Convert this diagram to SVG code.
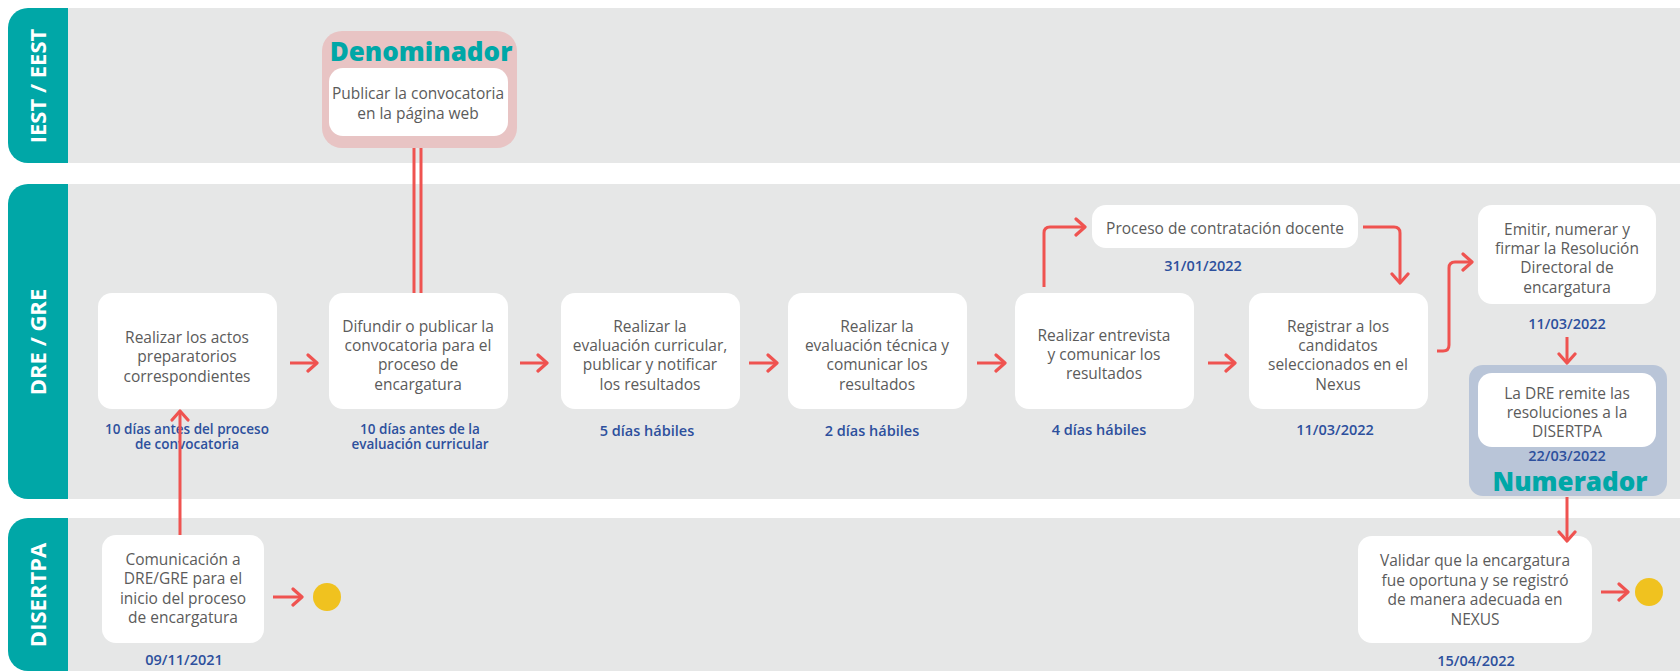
<svg xmlns="http://www.w3.org/2000/svg" width="1680" height="671" viewBox="0 0 1680 671">
<style>
.lane{fill:#e6e7e7}
.hdr{fill:#00a7a7}
.hdrt{fill:#ffffff;font-family:"Open Sans","Liberation Sans",sans-serif;font-weight:700;font-size:22px;text-anchor:middle}
.box{fill:#ffffff}
.t{fill:#5b5b5b;font-family:"Open Sans","Liberation Sans",sans-serif;font-size:15.5px;text-anchor:middle}
.d{fill:#2d509d;font-family:"Open Sans","Liberation Sans",sans-serif;font-weight:600;font-size:14.5px;text-anchor:middle}
.d2{font-size:13.5px}
.big{fill:#00a7a7;font-family:"Open Sans","Liberation Sans",sans-serif;font-weight:800;font-size:26px;text-anchor:middle}
.c{fill:none;stroke:#ef5350;stroke-width:3;stroke-linejoin:round}
.dot{fill:#f0c21f}
</style>
<defs>
<marker id="ah" viewBox="-12 -10 14 20" markerWidth="14" markerHeight="20" refX="0" refY="0" orient="auto" markerUnits="userSpaceOnUse">
<path d="M-9,-8 L0,0 L-9,8" fill="none" stroke="#ef5350" stroke-width="3.2" stroke-linecap="round" stroke-linejoin="round"/>
</marker>
</defs>

<g id="lanes">
<g id="lane-iest">
<rect class="lane" x="60" y="8" width="1640" height="155" rx="10"/>
<path class="hdr" d="M28,8 H68 V163 H28 A20,20 0 0 1 8,143 V28 A20,20 0 0 1 28,8 Z"/>
<text class="hdrt" transform="translate(45.5,86) rotate(-90)">IEST / EEST</text>
</g>
<g id="lane-dre">
<rect class="lane" x="60" y="184" width="1640" height="315" rx="10"/>
<path class="hdr" d="M28,184 H68 V499 H28 A20,20 0 0 1 8,479 V204 A20,20 0 0 1 28,184 Z"/>
<text class="hdrt" transform="translate(45.5,342) rotate(-90)">DRE / GRE</text>
</g>
<g id="lane-disertpa">
<rect class="lane" x="60" y="518" width="1640" height="153" rx="10"/>
<path class="hdr" d="M28,518 H68 V671 H28 A20,20 0 0 1 8,651 V538 A20,20 0 0 1 28,518 Z"/>
<text class="hdrt" transform="translate(45.5,595) rotate(-90)">DISERTPA</text>
</g>
</g>

<g id="n-denominador">
<rect x="322" y="31" width="195" height="117" rx="20" fill="#e8c4c4"/>
<text class="big" x="421" y="61">Denominador</text>
<rect class="box" x="329" y="68" width="179" height="68" rx="14"/>
<text class="t" x="418" y="99">Publicar la convocatoria</text>
<text class="t" x="418" y="119">en la página web</text>
</g>

<g id="n-actos">
<rect class="box" x="98" y="293" width="179" height="116" rx="14"/>
<text class="t" x="187" y="343">Realizar los actos</text>
<text class="t" x="187" y="362">preparatorios</text>
<text class="t" x="187" y="382">correspondientes</text>
<text class="d d2" x="187" y="434">10 días antes del proceso<tspan x="187" dy="15">de convocatoria</tspan></text>
</g>

<g id="n-difundir">
<rect class="box" x="329" y="293" width="179" height="116" rx="14"/>
<text class="t" x="418" y="332">Difundir o publicar la</text>
<text class="t" x="418" y="351">convocatoria para el</text>
<text class="t" x="418" y="370">proceso de</text>
<text class="t" x="418" y="389.5">encargatura</text>
<text class="d d2" x="420" y="434">10 días antes de la<tspan x="420" dy="15">evaluación curricular</tspan></text>
</g>

<g id="n-curricular">
<rect class="box" x="561" y="293" width="179" height="116" rx="14"/>
<text class="t" x="650" y="332">Realizar la</text>
<text class="t" x="650" y="351">evaluación curricular,</text>
<text class="t" x="650" y="370">publicar y notificar</text>
<text class="t" x="650" y="389.5">los resultados</text>
<text class="d" x="647" y="436">5 días hábiles</text>
</g>

<g id="n-tecnica">
<rect class="box" x="788" y="293" width="179" height="116" rx="14"/>
<text class="t" x="877" y="332">Realizar la</text>
<text class="t" x="877" y="351">evaluación técnica y</text>
<text class="t" x="877" y="370">comunicar los</text>
<text class="t" x="877" y="389.5">resultados</text>
<text class="d" x="872" y="436">2 días hábiles</text>
</g>

<g id="n-entrevista">
<rect class="box" x="1015" y="293" width="179" height="116" rx="14"/>
<text class="t" x="1104" y="341">Realizar entrevista</text>
<text class="t" x="1104" y="360">y comunicar los</text>
<text class="t" x="1104" y="379">resultados</text>
<text class="d" x="1099" y="435">4 días hábiles</text>
</g>

<g id="n-contratacion">
<rect class="box" x="1092" y="205" width="266" height="43" rx="14"/>
<text class="t" x="1225" y="234">Proceso de contratación docente</text>
<text class="d" x="1203" y="271">31/01/2022</text>
</g>

<g id="n-registrar">
<rect class="box" x="1249" y="293" width="179" height="116" rx="14"/>
<text class="t" x="1338" y="332">Registrar a los</text>
<text class="t" x="1338" y="351">candidatos</text>
<text class="t" x="1338" y="370">seleccionados en el</text>
<text class="t" x="1338" y="389.5">Nexus</text>
<text class="d" x="1335" y="435">11/03/2022</text>
</g>

<g id="n-emitir">
<rect class="box" x="1478" y="205" width="178" height="99" rx="14"/>
<text class="t" x="1567" y="235">Emitir, numerar y</text>
<text class="t" x="1567" y="254">firmar la Resolución</text>
<text class="t" x="1567" y="273">Directoral de</text>
<text class="t" x="1567" y="292.5">encargatura</text>
<text class="d" x="1567" y="329">11/03/2022</text>
</g>

<g id="n-numerador">
<rect x="1469" y="365" width="198" height="131" rx="14" fill="#b9c5d8"/>
<rect class="box" x="1478" y="373" width="178" height="74" rx="14"/>
<text class="t" x="1567" y="399">La DRE remite las</text>
<text class="t" x="1567" y="418">resoluciones a la</text>
<text class="t" x="1567" y="437">DISERTPA</text>
<text class="d" x="1567" y="461">22/03/2022</text>
<text class="big" x="1570" y="491">Numerador</text>
</g>

<g id="n-comunicacion">
<rect class="box" x="102" y="535" width="162" height="108" rx="14"/>
<text class="t" x="183" y="565">Comunicación a</text>
<text class="t" x="183" y="584">DRE/GRE para el</text>
<text class="t" x="183" y="603.5">inicio del proceso</text>
<text class="t" x="183" y="623">de encargatura</text>
<text class="d" x="184" y="665">09/11/2021</text>
</g>
<g id="n-start">
<circle class="dot" cx="327" cy="597" r="14"/>
</g>

<g id="n-validar">
<rect class="box" x="1358" y="536" width="234" height="107" rx="14"/>
<text class="t" x="1475" y="566">Validar que la encargatura</text>
<text class="t" x="1475" y="585.5">fue oportuna y se registró</text>
<text class="t" x="1475" y="605">de manera adecuada en</text>
<text class="t" x="1475" y="624.5">NEXUS</text>
<text class="d" x="1476" y="666">15/04/2022</text>
</g>
<g id="n-end">
<circle class="dot" cx="1649" cy="592" r="14"/>
</g>

<g id="connectors">
<path class="c" d="M414,148 V293"/>
<path class="c" d="M421,148 V293"/>
<path class="c" d="M290,363 H317" marker-end="url(#ah)"/>
<path class="c" d="M520,363 H547" marker-end="url(#ah)"/>
<path class="c" d="M749,363 H777" marker-end="url(#ah)"/>
<path class="c" d="M977,363 H1005" marker-end="url(#ah)"/>
<path class="c" d="M1208,363 H1235" marker-end="url(#ah)"/>
<path class="c" d="M1044,287 V233 Q1044,227 1050,227 H1085" marker-end="url(#ah)"/>
<path class="c" d="M1363,227 H1394 Q1400,227 1400,233 V283" marker-end="url(#ah)"/>
<path class="c" d="M1437,351 H1443 Q1449,351 1449,345 V268 Q1449,262 1455,262 H1472" marker-end="url(#ah)"/>
<path class="c" d="M1567,337 V363" marker-end="url(#ah)"/>
<path class="c" d="M1567,497 V541" marker-end="url(#ah)"/>
<path class="c" d="M180,535 V411" marker-end="url(#ah)"/>
<path class="c" d="M273,597 H302" marker-end="url(#ah)"/>
<path class="c" d="M1601,592 H1628" marker-end="url(#ah)"/>
</g>
</svg>
